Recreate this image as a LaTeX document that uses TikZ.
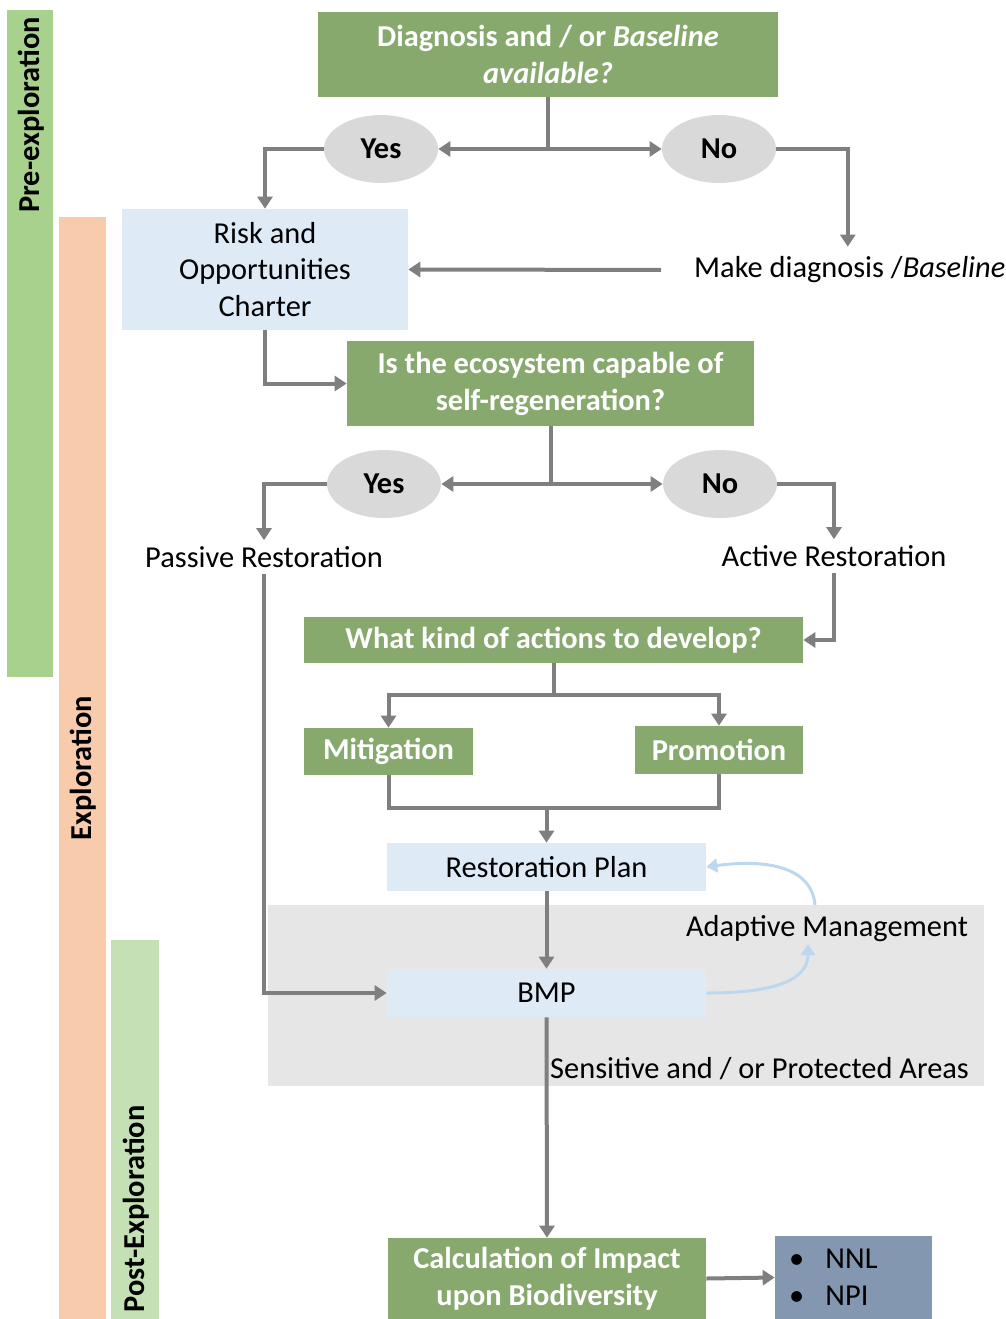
\documentclass[tikz,border=0pt]{standalone}
\usepackage{fontspec}
\setmainfont{Carlito}
\usetikzlibrary{arrows.meta,shapes.geometric,calc}
\definecolor{grn}{HTML}{87A96E}
\definecolor{lblue}{HTML}{DEEBF7}
\definecolor{ellg}{HTML}{D9D9D9}
\definecolor{bandg}{HTML}{E7E6E6}
\definecolor{nnlc}{HTML}{8497B0}
\definecolor{prec}{HTML}{A9D18E}
\definecolor{expc}{HTML}{F8CBAD}
\definecolor{postc}{HTML}{C5E0B4}
\definecolor{arrg}{HTML}{7F7F7F}
\definecolor{curvc}{HTML}{BDD7EE}
\begin{document}
\begin{tikzpicture}[x=0.02cm,y=-0.02cm,
  every node/.style={font=\fontsize{17.3}{21}\selectfont},
  gbox/.style={fill=grn,text=white,font=\fontsize{17.3}{21}\selectfont\bfseries,align=center,inner sep=0pt},
  bbox/.style={fill=lblue,text=black,align=center,inner sep=0pt},
  yn/.style={ellipse,fill=ellg,font=\fontsize{17.3}{21}\selectfont\bfseries,minimum width=2.28cm,minimum height=1.36cm,inner sep=0pt},
  lbl/.style={text=black},
  bar/.style={font=\fontsize{17.3}{21}\selectfont\bfseries,rotate=90},
  arr/.style={draw=arrg,line width=0.08cm,-{Triangle[length=0.24cm,width=0.3cm]}},
  ln/.style={draw=arrg,line width=0.08cm},
  carr/.style={draw=curvc,line width=0.06cm,-{Triangle[length=0.22cm,width=0.28cm]}}]
\useasboundingbox (0,0) rectangle (1006,1319);
% phase bars
\fill[prec] (7,10) rectangle (53,677);
\fill[expc] (59,217) rectangle (106,1319);
\fill[postc] (111,940) rectangle (159,1319);
\node[bar] (lpre) at (31,115) {Pre-exploration};
\node[bar] (lexp) at (83,768) {Exploration};
\node[bar] (lpost) at (136,1209) {Post-Exploration};
% sensitive band
\fill[bandg] (268,905) rectangle (984,1086);
% nodes
\node[gbox,minimum width=9.2cm,minimum height=1.7cm] (diag) at (548,54.5) {Diagnosis and / or \textit{Baseline}\\ \textit{available?}};
\node[yn] (yes1) at (381,149) {Yes};
\node[yn] (no1) at (719,149) {No};
\node[bbox,minimum width=5.72cm,minimum height=2.42cm] (risk) at (265,269.5) {Risk and\\ Opportunities\\ Charter};
\node[lbl,anchor=west] (make) at (688,270) {Make diagnosis /\textit{Baseline}};
\node[gbox,minimum width=8.14cm,minimum height=1.7cm] (eco) at (550.5,383.5) {Is the ecosystem capable of\\ self-regeneration?};
\node[yn] (yes2) at (384,484) {Yes};
\node[yn] (no2) at (720,484) {No};
\node[lbl] (passive) at (264,557) {Passive Restoration};
\node[lbl] (active) at (834,556) {Active Restoration};
\node[gbox,minimum width=9.98cm,minimum height=0.92cm] (what) at (553.5,640) {What kind of actions to develop?};
\node[gbox,minimum width=3.38cm,minimum height=0.94cm] (mit) at (388.5,751.5) {Mitigation};
\node[gbox,minimum width=3.36cm,minimum height=0.96cm] (prom) at (719,750) {Promotion};
\node[bbox,minimum width=6.38cm,minimum height=0.96cm] (rp) at (546.5,867) {Restoration Plan};
\node[bbox,minimum width=6.38cm,minimum height=0.96cm] (bmp) at (546.5,993) {BMP};
\node[lbl] (adapt) at (827,929) {Adaptive Management};
\node[lbl,anchor=west] (sens) at (544,1069) {Sensitive and / or Protected Areas};
\node[gbox,minimum width=6.36cm,minimum height=1.62cm] (calc) at (547,1278.5) {Calculation of Impact\\ upon Biodiversity};
\node[fill=nnlc,text width=2.58cm,inner xsep=0.28cm,inner ysep=0pt,minimum height=1.66cm,align=left] (nnl) at (853.5,1277.5) {\makebox[0.73cm][l]{\textbullet}NNL\\ \makebox[0.73cm][l]{\textbullet}NPI};
% connectors
\draw[ln] (diag.south) -- (diag.south |- yes1.east) coordinate (j1);
\draw[arr] (j1) -- (yes1.east);
\draw[arr] (j1) -- (no1.west);
\draw[arr] (yes1.west) -| (risk.north);
\draw[arr] (no1.east) -| ($(make.north)+(-2,-4)$);
\draw[arr,shorten <=0.54cm] (make.west) -- (risk.east);
\draw[arr] (risk.south) |- (eco.west);
\draw[ln] (eco.south) -- (eco.south |- yes2.east) coordinate (j2);
\draw[arr] (j2) -- (yes2.east);
\draw[arr] (j2) -- (no2.west);
\draw[arr] (yes2.west) -| (passive.north);
\draw[arr] (no2.east) -| (active.north);
\draw[arr] (active.south) |- (what.east);
\draw[ln] (what.south) -- ++(0,32) coordinate (j3);
\draw[arr] (j3) -| (mit.north);
\draw[arr] (j3) -| (prom.north);
\coordinate (j4) at (rp.north |- 0,808);
\draw[ln] (mit.south) |- (j4) -| (prom.south);
\draw[arr] (j4) -- (rp.north);
\draw[arr] (rp.south) -- (bmp.north);
\draw[arr] (passive.south) |- (bmp.west);
\draw[arr] (bmp.south) -- (calc.north);
\draw[arr] (calc.east) -- (nnl.west);
\coordinate (a1) at (808,944);
\coordinate (a2) at (815,905);
\draw[carr] (bmp.east) to[out=0,in=-90] (a1);
\draw[carr] (a2) to[out=95,in=8] (rp.east);
\end{tikzpicture}
\end{document}
